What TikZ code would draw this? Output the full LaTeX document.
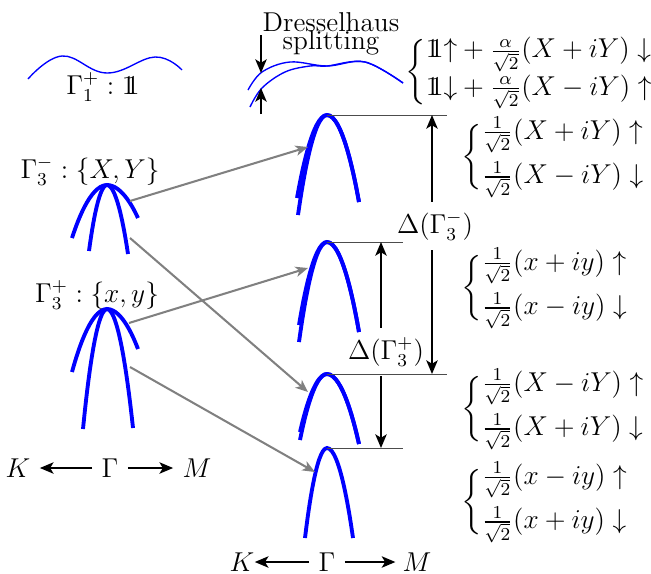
\documentclass[tikz,border=0pt,12pt]{standalone}
\usepackage{amsmath,amssymb}
\usetikzlibrary{arrows.meta}
\newcommand{\idop}{\mathrm{1\mkern-6mu 1}}

\begin{document}
\begin{tikzpicture}[x=0.44pt, y=-0.44pt,
  band/.style={blue, line width=1.7pt},
  thinband/.style={blue, line width=0.6pt},
  link/.style={gray, line width=0.9pt, -{Stealth[length=5.5pt,width=4.5pt,inset=1.5pt]}},
  gap/.style={black, line width=0.9pt, -{Stealth[length=6pt,width=5pt,inset=1.5pt]}},
  level/.style={black!70, line width=0.4pt},
  spin/.style={anchor=west, inner sep=0pt}]
\useasboundingbox (0,0) rectangle (651,573);
% Gamma_1^+ band
\draw[thinband] plot[smooth, tension=0.7] coordinates {(28,79) (62,56) (107,73) (155,57) (182,70)};
\node (G1) at (103,87) {$\Gamma_1^+:\idop$};
% Dresselhaus splitting of the Gamma_1^+ band
\draw[thinband] plot[smooth, tension=0.6] coordinates {(248,90) (262,72) (290,62) (327,66) (365,62) (403,83)};
\draw[thinband] plot[smooth, tension=0.6] coordinates {(250,107) (262,88) (285,72) (310,66) (327,66) (365,62) (403,83)};
\node[align=center, inner sep=1pt] (DS) at (331,34) {Dresselhaus\\[-6.5pt]splitting};
\coordinate (dsA) at (261,35);
\coordinate (dsB) at (261,73);
\coordinate (dsC) at (261,114);
\coordinate (dsD) at (261,88);
\draw[gap] (dsA) -- (dsB);
\draw[gap] (dsC) -- (dsD);
\node[spin] (S1) at (405,72) {$\bigg\{\begin{array}{@{}l@{}}
  \idop{\uparrow}+\frac{\alpha}{\sqrt{2}}(X+iY)\downarrow\\[2pt]
  \idop{\downarrow}+\frac{\alpha}{\sqrt{2}}(X-iY)\uparrow\end{array}$};
% left: bands without spin-orbit
\node (G3m) at (90,171) {$\Gamma_3^-:\{X,Y\}$};
\draw[band] (72,238) parabola bend (107,185) (138,218);
\draw[band] (89,251) parabola bend (107,185) (128,254);
\node (G3p) at (97,295) {$\Gamma_3^+:\{x,y\}$};
\draw[band] (72,372) parabola bend (107,309) (138,349);
\draw[band] (83,429) parabola bend (107,309) (133,428);
\node (Kl) at (18,468) {$K$};
\node (Gl) at (110,468) {$\Gamma$};
\node (Ml) at (197,468) {$M$};
\draw[gap] (Gl) -- (Kl);
\draw[gap] (Gl) -- (Ml);
% right: split bands
\coordinate (r1) at (327,115);
\coordinate (r2) at (327,242);
\coordinate (r3) at (327,374);
\coordinate (r4) at (327,448);
\draw[band] (297,198) parabola bend (r1) (359,202);
\draw[band] (298,215) parabola bend (r1) (359,202);
\draw[band] (299,325) parabola bend (r2) (359,332);
\draw[band] (299,342) parabola bend (r2) (359,332);
\draw[band] (300,432) parabola bend (r3) (359,444);
\draw[band] (300,440) parabola bend (r3) (359,444);
\draw[band] (305,538) parabola bend (r4) (353,538);
\draw[level] (r1) -- (447,115) coordinate (e1);
\draw[level] (r2) -- (403,242) coordinate (e2);
\draw[level] (r3) -- (447,374) coordinate (e3);
\draw[level] (r4) -- (403,448) coordinate (e4);
\node[spin] (S2) at (461,157) {$\bigg\{\begin{array}{@{}l@{}}
  \frac{1}{\sqrt{2}}(X+iY)\uparrow\\[5pt] \frac{1}{\sqrt{2}}(X-iY)\downarrow\end{array}$};
\node[spin] (S3) at (461,288) {$\bigg\{\begin{array}{@{}l@{}}
  \frac{1}{\sqrt{2}}(x+iy)\uparrow\\[5pt] \frac{1}{\sqrt{2}}(x-iy)\downarrow\end{array}$};
\node[spin] (S4) at (461,409) {$\bigg\{\begin{array}{@{}l@{}}
  \frac{1}{\sqrt{2}}(X-iY)\uparrow\\[5pt] \frac{1}{\sqrt{2}}(X+iY)\downarrow\end{array}$};
\node[spin] (S5) at (461,502) {$\bigg\{\begin{array}{@{}l@{}}
  \frac{1}{\sqrt{2}}(x-iy)\uparrow\\[5pt] \frac{1}{\sqrt{2}}(x+iy)\downarrow\end{array}$};
% gaps
\coordinate (g1) at (432,115);
\coordinate (g3) at (432,374);
\node (Dm) at (435,226) {$\Delta(\Gamma_3^-)$};
\draw[gap] (Dm.north -| g1) -- (g1);
\draw[gap] (Dm.south -| g3) -- (g3);
\coordinate (g2) at (381,242);
\coordinate (g4) at (381,448);
\node (Dp) at (386,352) {$\Delta(\Gamma_3^+)$};
\draw[gap] (Dp.north -| g2) -- (g2);
\draw[gap] (Dp.south -| g4) -- (g4);
% band correspondence
\coordinate (a1) at (130,201);
\coordinate (a2) at (130,238);
\coordinate (a3) at (129,323);
\coordinate (a4) at (130,367);
\coordinate (b1) at (308,147);
\coordinate (b2) at (308,392);
\coordinate (b3) at (308,268);
\coordinate (b4) at (315,472);
\draw[link] (a1) -- (b1);
\draw[link] (a2) -- (b2);
\draw[link] (a3) -- (b3);
\draw[link] (a4) -- (b4);
\node[inner sep=0pt] (Kr) at (242,562) {$K$};
\node (Gr) at (327,562) {$\Gamma$};
\node[inner sep=3pt] (Mr) at (417,562) {$M$};
\draw[gap] (Gr) -- (Kr);
\draw[gap] (Gr) -- (Mr);
\end{tikzpicture}
\end{document}
